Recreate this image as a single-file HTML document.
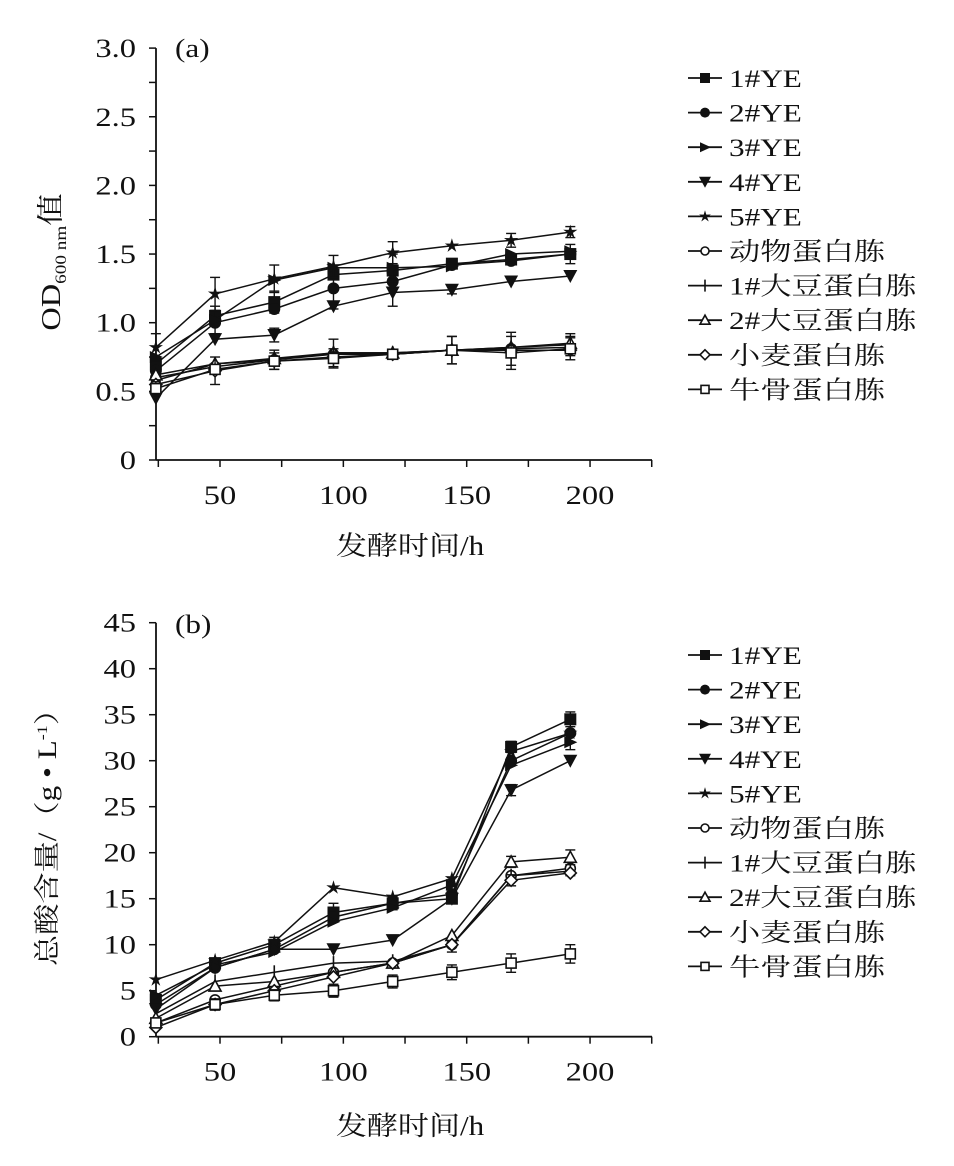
<!DOCTYPE html>
<html><head><meta charset="utf-8"><style>
body{margin:0;background:#fff}
svg{display:block}
text{font-family:"Liberation Serif","Noto Serif CJK SC","Noto Sans CJK SC",serif;fill:#111}
</style></head><body>
<svg id="s" width="954" height="1166" viewBox="0 0 954 1166" xmlns="http://www.w3.org/2000/svg">
<g id="g"></g>
<text transform="translate(175,57) scale(1.2,1)" font-size="26">(a)</text>
<text transform="translate(175,633) scale(1.2,1)" font-size="26">(b)</text>
<text transform="translate(410,555) scale(1.15,1)" font-size="27" text-anchor="middle">发酵时间/h</text>
<text transform="translate(410,1135) scale(1.15,1)" font-size="27" text-anchor="middle">发酵时间/h</text>
<text transform="translate(60,262) rotate(-90) scale(1.2,1)" font-size="27" text-anchor="middle">OD<tspan font-size="16" dy="6">600 nm</tspan><tspan dy="-6">值</tspan></text>
<text transform="translate(56,830) rotate(-90) scale(1.2,1)" font-size="26" text-anchor="middle">总酸含量/（g • L<tspan font-size="15" dy="-9">-1</tspan><tspan dy="9">）</tspan></text>
</svg>
<script>
var g=document.getElementById('g'),h='';
function X(v){return 220+(v-50)*2.467;}
var T=[24,48,72,96,120,144,168,192];
function TX(x,y,s,a,c){return '<text transform="translate('+x+','+y+') scale(1.25,1)" font-size="'+s+'"'+(a?' text-anchor="'+a+'"':'')+'>'+c+'</text>';}
function mk(t,x,y,s){s=s||6;
 switch(t){
 case 'sq':return '<rect x="'+(x-s)+'" y="'+(y-s)+'" width="'+2*s+'" height="'+2*s+'" fill="#111"/>';
 case 'ci':return '<circle cx="'+x+'" cy="'+y+'" r="'+s+'" fill="#111"/>';
 case 'rt':return '<polygon points="'+(x-s)+','+(y-s)+' '+(x+s+1)+','+y+' '+(x-s)+','+(y+s)+'" fill="#111"/>';
 case 'dt':return '<polygon points="'+(x-s-1)+','+(y-s)+' '+(x+s+1)+','+(y-s)+' '+x+','+(y+s+1)+'" fill="#111"/>';
 case 'st':var p=[];for(var i=0;i<10;i++){var r=i%2?s*0.45:s*1.25,a=-Math.PI/2+i*Math.PI/5;p.push((x+r*Math.cos(a)).toFixed(1)+','+(y+r*Math.sin(a)).toFixed(1));}return '<polygon points="'+p.join(' ')+'" fill="#111"/>';
 case 'oc':return '<circle cx="'+x+'" cy="'+y+'" r="'+(s-1)+'" fill="#fff" stroke="#111" stroke-width="1.6"/>';
 case 'pl':return '<line x1="'+x+'" y1="'+(y-s-1)+'" x2="'+x+'" y2="'+(y+s+1)+'" stroke="#111" stroke-width="1.6"/>';
 case 'tr':return '<polygon points="'+(x-s)+','+(y+s-1)+' '+(x+s)+','+(y+s-1)+' '+x+','+(y-s)+'" fill="#fff" stroke="#111" stroke-width="1.6"/>';
 case 'di':return '<polygon points="'+x+','+(y-s)+' '+(x+s)+','+y+' '+x+','+(y+s)+' '+(x-s)+','+y+'" fill="#fff" stroke="#111" stroke-width="1.6"/>';
 case 'os':return '<rect x="'+(x-s+1)+'" y="'+(y-s+1)+'" width="'+(2*s-2)+'" height="'+(2*s-2)+'" fill="#fff" stroke="#111" stroke-width="1.6"/>';
 }}
var types=['sq','ci','rt','dt','st','oc','pl','tr','di','os'];
var names=['1#YE','2#YE','3#YE','4#YE','5#YE','动物蛋白胨','1#大豆蛋白胨','2#大豆蛋白胨','小麦蛋白胨','牛骨蛋白胨'];
function chart(y0,sc,ymax,minor,labs,data,errs,ly){
 h+='<line x1="156" y1="'+(y0-ymax*sc)+'" x2="156" y2="'+y0+'" stroke="#111" stroke-width="1.8"/>';
 h+='<line x1="156" y1="'+y0+'" x2="652" y2="'+y0+'" stroke="#111" stroke-width="1.8"/>';
 for(var v=0;v<=ymax+1e-9;v+=minor){var y=y0-v*sc;h+='<line x1="149" y1="'+y+'" x2="156" y2="'+y+'" stroke="#111" stroke-width="1.5"/>';}
 for(var i=0;i<labs.length;i++){var y=y0-labs[i][0]*sc;h+=TX(136,y+9,26,'end',labs[i][1]);}
 for(var v=25;v<=225;v+=25){var x=X(v);h+='<line x1="'+x+'" y1="'+y0+'" x2="'+x+'" y2="'+(y0+7)+'" stroke="#111" stroke-width="1.5"/>';}
 [50,100,150,200].forEach(function(v){h+=TX(X(v),y0+44,26,'middle',v);});
 data.forEach(function(d,k){
  var pts=d.map(function(v,i){return X(T[i]).toFixed(1)+','+(y0-v*sc).toFixed(1);});
  h+='<polyline points="'+pts.join(' ')+'" fill="none" stroke="#111" stroke-width="1.5"/>';
  d.forEach(function(v,i){var e=errs[k]&&errs[k][i];if(e){var x=X(T[i]),y1=y0-(v+e)*sc,y2=y0-(v-e)*sc;h+='<line x1="'+x+'" y1="'+y1+'" x2="'+x+'" y2="'+y2+'" stroke="#111" stroke-width="1.4"/><line x1="'+(x-5)+'" y1="'+y1+'" x2="'+(x+5)+'" y2="'+y1+'" stroke="#111" stroke-width="1.4"/><line x1="'+(x-5)+'" y1="'+y2+'" x2="'+(x+5)+'" y2="'+y2+'" stroke="#111" stroke-width="1.4"/>';}});
  d.forEach(function(v,i){h+=mk(types[k],X(T[i]),y0-v*sc);});
 });
 for(var i=0;i<10;i++){var y=ly+i*34.6;h+='<line x1="688" y1="'+y+'" x2="722" y2="'+y+'" stroke="#111" stroke-width="1.8"/>'+mk(types[i],705,y,5)+TX(729,y+9,25,'',names[i]);}
}
var A=[[0.7,1.05,1.15,1.35,1.38,1.43,1.46,1.5],[0.65,1.0,1.1,1.25,1.3,1.42,1.45,1.5],[0.75,1.02,1.31,1.4,1.4,1.41,1.5,1.52],[0.45,0.88,0.91,1.12,1.22,1.24,1.3,1.34],[0.82,1.21,1.32,1.41,1.51,1.56,1.6,1.66],
[0.6,0.68,0.73,0.77,0.77,0.8,0.81,0.82],[0.58,0.7,0.73,0.78,0.78,0.8,0.82,0.84],[0.62,0.7,0.74,0.78,0.78,0.8,0.82,0.85],[0.55,0.65,0.72,0.75,0.77,0.8,0.8,0.8],[0.52,0.66,0.72,0.74,0.77,0.8,0.78,0.81]];
var AE=[[0,0,0.08,0,0,0,0,0],[0,0,0,0.15,0,0,0,0.07],[0,0.1,0,0,0.1,0,0,0],[0,0,0.05,0,0.1,0.03,0,0],[0.1,0.12,0.1,0.08,0.08,0,0.05,0.04],[0,0,0.07,0,0,0,0.12,0],[0,0,0,0.1,0,0.1,0,0.08],[0,0,0,0,0,0,0,0.05],[0,0.1,0,0,0,0,0,0],[0.05,0,0.06,0.07,0,0.1,0.12,0.08]];
chart(460,137.3,3.0,0.25,[[0,'0'],[0.5,'0.5'],[1,'1.0'],[1.5,'1.5'],[2,'2.0'],[2.5,'2.5'],[3,'3.0']],A,AE,78);
var B=[[4,8,10,13.5,14.5,15,31.5,34.5],[3.5,7.5,9.5,13,14.5,15.5,30,33],[4.5,7.8,9.2,12.5,14,16.5,29.5,32],[3,7.5,9.5,9.5,10.5,15,26.8,30],[6.2,8.3,10.3,16.2,15.2,17.2,31,33],
[1.5,4,5.5,7,8,10,17.5,18.3],[2.5,6,7,8,8.2,10,17.5,18],[2,5.5,6,7,8,11,19,19.5],[1,3.5,5,6.5,8,10,17,17.8],[1.5,3.5,4.5,5,6,7,8,9]];
var BE=[[0,0,0.8,1,0,0,0.6,0.8],[0,0,0,0,0.7,0,0,0],[0,0,0,0,0,0.8,0,0.8],[0,0,0,0,0,0,0.6,0],[0,0,0,0,0,0,0,0],[0,0,0,0,0,0.8,0,0.8],[0,0,0,0,0,0,0,0],[0,0,0,0,0,0,0.6,0.8],[0,0.6,0,0,0,0,0.6,0],[0.5,0.6,0.6,0.7,0.7,0.8,1,1]];
chart(1036.7,9.2,45,5,[[0,'0'],[5,'5'],[10,'10'],[15,'15'],[20,'20'],[25,'25'],[30,'30'],[35,'35'],[40,'40'],[45,'45']],B,BE,655);
g.innerHTML=h;
</script>
</body></html>
